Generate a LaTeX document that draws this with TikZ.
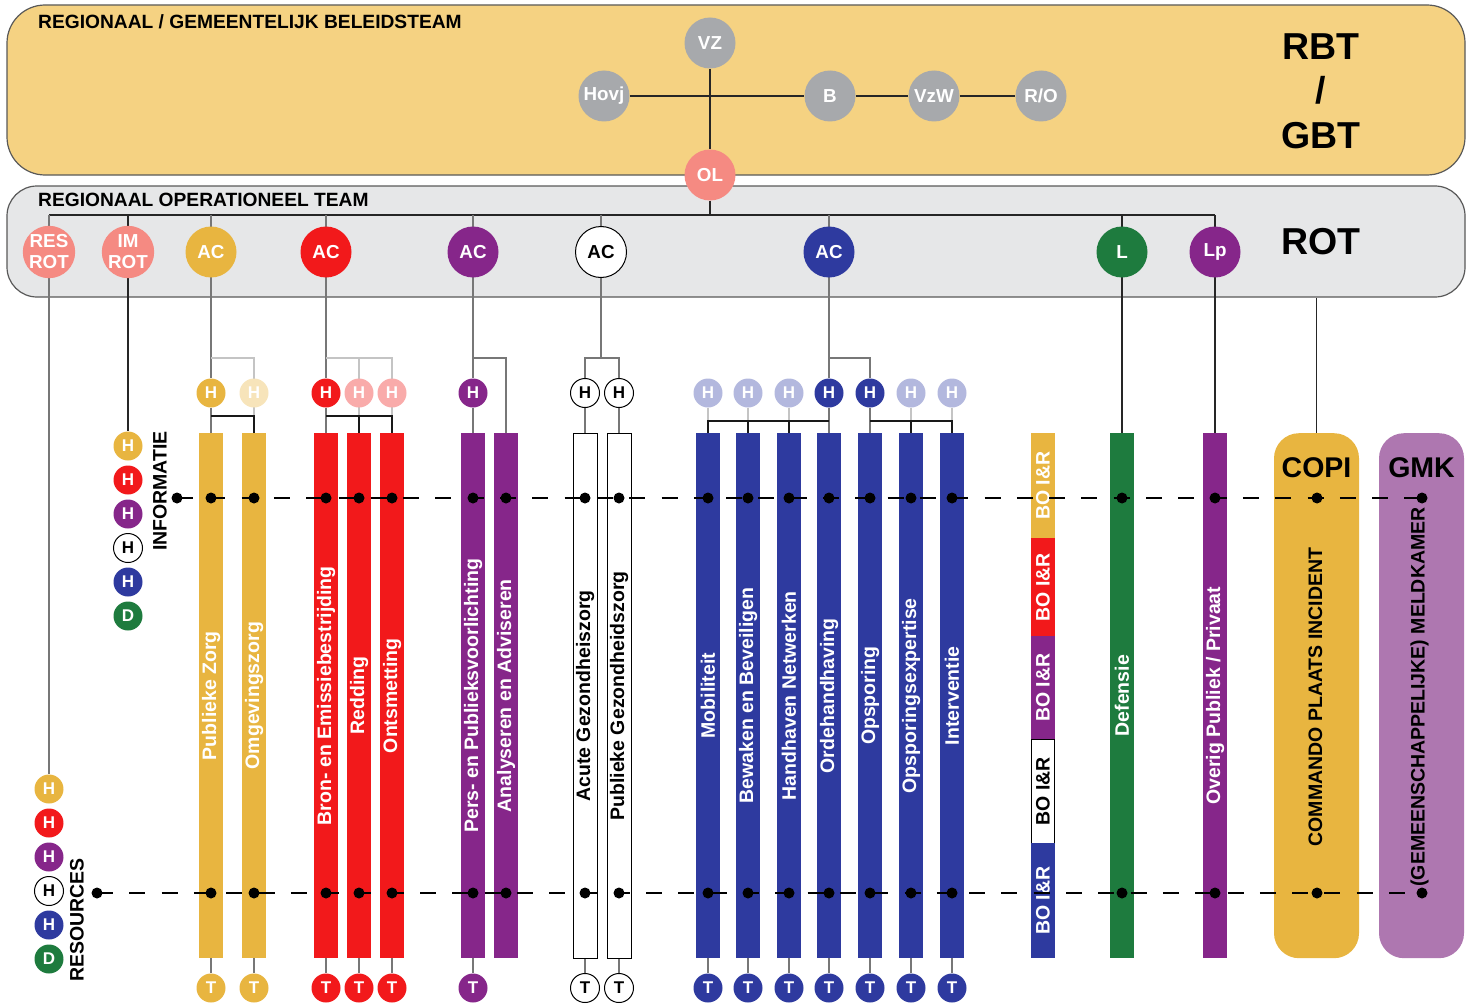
\documentclass[tikz,border=0pt]{standalone}
\usepackage{fontspec}
\setmainfont{Liberation Sans}
\definecolor{rbtfill}{HTML}{F5D282}
\definecolor{rotfill}{HTML}{E6E7E8}
\definecolor{cgray}{HTML}{A7A9AC}
\definecolor{salmon}{HTML}{F58A82}
\definecolor{cyel}{HTML}{E8B540}
\definecolor{cyelL}{HTML}{F7E4BA}
\definecolor{cred}{HTML}{F2191B}
\definecolor{credL}{HTML}{F9ABAA}
\definecolor{cpur}{HTML}{86268A}
\definecolor{cblue}{HTML}{2E3A9F}
\definecolor{cblueL}{HTML}{B3B8DE}
\definecolor{cgreen}{HTML}{1E7B3E}
\definecolor{cgmk}{HTML}{AE77B0}
\definecolor{lgray}{HTML}{C4C4C4}
\definecolor{mgray}{HTML}{777777}
\pgfdeclarelayer{back}
\pgfdeclarelayer{bg}
\pgfsetlayers{back,bg,main}
\tikzset{
  boxst/.style={draw=black!65, line width=1.2pt, inner sep=0pt},
  bigc/.style={circle, inner sep=0pt, minimum size=51pt, font=\bfseries\fontsize{18.8}{21}\selectfont, text=white, align=center},
  smc/.style={circle, inner sep=0pt, minimum size=29pt, font=\bfseries\fontsize{17}{17}\selectfont, text=white},
  wsmc/.style={smc, fill=white, draw=black, line width=1pt, text=black},
  barbox/.style={rectangle, inner sep=0pt, minimum width=24pt, minimum height=525pt, anchor=north},
  lbl/.style={rotate=90, inner sep=0pt, font=\bfseries\fontsize{19.5}{19.5}\selectfont, text=white},
  dotn/.style={circle, fill=black, inner sep=0pt, minimum size=11pt},
  thinb/.style={draw=black!85, line width=1.3pt},
  conn/.style={draw=mgray, line width=1.4pt},
  connl/.style={draw=lgray, line width=1.4pt},
  connd/.style={draw=black!90, line width=1.4pt},
  dline/.style={line width=2.3pt, dash pattern=on 16pt off 16.3pt},
  titletxt/.style={font=\bfseries\fontsize{19.2}{19.5}\selectfont, anchor=west, inner sep=0pt},
  bigtxt/.style={font=\bfseries\fontsize{37.5}{44.7}\selectfont, align=center, inner sep=0pt},
}
\newcommand{\mybar}[5][]{\node[barbox,#1] (b#2) at (#3,433) {}; \node[lbl,#4] (l#2) at (b#2) {#5};}
\begin{document}
\begin{tikzpicture}[x=1pt,y=-1pt]
\useasboundingbox (0,0) rectangle (1472,1006);
% boxes
\begin{pgfonlayer}{back}
\node[boxst, fill=rbtfill, rounded corners=38pt, minimum width=1458pt, minimum height=170pt] (rbt) at (736,90) {};
\node[boxst, fill=rotfill, rounded corners=30pt, minimum width=1458pt, minimum height=111pt] (rot) at (736,241.5) {};
\end{pgfonlayer}
\node[titletxt] (tRBT) at (38,22) {REGIONAAL / GEMEENTELIJK BELEIDSTEAM};
\node[titletxt] (tROT) at (38,199.5) {REGIONAAL OPERATIONEEL TEAM};
\node[bigtxt] (rbtlabel) at (1321,91) {RBT\\/\\GBT};
\node[bigtxt] (rotlabel) at (1321,242) {ROT};
% top circles
\node[bigc, fill=cgray] (vz) at (710,43) {VZ};
\node[bigc, fill=cgray] (hovj) at (604,96) {Hovj};
\node[bigc, fill=cgray] (b) at (830,96) {B};
\node[bigc, fill=cgray] (vzw) at (934,96) {VzW};
\node[bigc, fill=cgray] (ro) at (1041,96) {R/O};
\node[bigc, fill=salmon] (ol) at (710,175) {OL};
% ROT circles
\node[bigc, fill=salmon] (res) at (49,252) {RES\\ROT};
\node[bigc, fill=salmon] (imrot) at (128,252) {IM\\ROT};
\node[bigc, fill=cyel] (acY) at (211,252) {AC};
\node[bigc, fill=cred] (acR) at (326,252) {AC};
\node[bigc, fill=cpur] (acP) at (473,252) {AC};
\node[bigc, fill=white, draw=black, line width=1pt, text=black] (acW) at (601,252) {AC};
\node[bigc, fill=cblue] (acB) at (829,252) {AC};
\node[bigc, fill=cgreen] (cL) at (1122,252) {L};
\node[bigc, fill=cpur] (cLp) at (1215,252) {Lp};
\coordinate (rl0) at (49,215);
\coordinate (rl1) at (1215,215);
\coordinate (j1) at (0,358);
\coordinate (j2) at (0,416);
\coordinate (j3) at (0,421);
% legends
\node[smc, fill=cyel] (li1) at (128,446) {H};
\node[smc, fill=cred] (li2) at (128,480) {H};
\node[smc, fill=cpur] (li3) at (128,514) {H};
\node[wsmc] (li4) at (128,548) {H};
\node[smc, fill=cblue] (li5) at (128,582) {H};
\node[smc, fill=cgreen] (li6) at (128,616) {D};
\node[lbl, text=black] (linfo) at (160,491) {INFORMATIE};
\node[smc, fill=cyel] (lr1) at (49,789) {H};
\node[smc, fill=cred] (lr2) at (49,823) {H};
\node[smc, fill=cpur] (lr3) at (49,857) {H};
\node[wsmc] (lr4) at (49,891) {H};
\node[smc, fill=cblue] (lr5) at (49,925) {H};
\node[smc, fill=cgreen] (lr6) at (49,959) {D};
\node[lbl, text=black] (lres) at (77,920) {RESOURCES};
% H circles
\node[smc, fill=cyel] (hY1) at (211,393) {H};
\node[smc, fill=cyelL] (hY2) at (254,393) {H};
\node[smc, fill=cred] (hR1) at (326,393) {H};
\node[smc, fill=credL] (hR2) at (359,393) {H};
\node[smc, fill=credL] (hR3) at (392,393) {H};
\node[smc, fill=cpur] (hP1) at (473,393) {H};
\node[wsmc] (hW1) at (585,393) {H};
\node[wsmc] (hW2) at (619,393) {H};
\node[smc, fill=cblueL] (hB1) at (708,393) {H};
\node[smc, fill=cblueL] (hB2) at (748,393) {H};
\node[smc, fill=cblueL] (hB3) at (789,393) {H};
\node[smc, fill=cblue] (hB4) at (829,393) {H};
\node[smc, fill=cblue] (hB5) at (870,393) {H};
\node[smc, fill=cblueL] (hB6) at (911,393) {H};
\node[smc, fill=cblueL] (hB7) at (952,393) {H};
% bars
\mybar[fill=cyel]{Y1}{211}{}{Publieke Zorg}
\mybar[fill=cyel]{Y2}{254}{}{Omgevingszorg}
\mybar[fill=cred]{R1}{326}{}{Bron- en Emissiebestrijding}
\mybar[fill=cred]{R2}{359}{}{Redding}
\mybar[fill=cred]{R3}{392}{}{Ontsmetting}
\mybar[fill=cpur]{P1}{473}{}{Pers- en Publieksvoorlichting}
\mybar[fill=cpur]{P2}{506}{}{Analyseren en Adviseren}
\mybar[fill=white,draw=black,line width=1pt]{W1}{585}{text=black}{Acute Gezondheiszorg}
\mybar[fill=white,draw=black,line width=1pt]{W2}{619}{text=black}{Publieke Gezondheidszorg}
\mybar[fill=cblue]{B1}{708}{}{Mobiliteit}
\mybar[fill=cblue]{B2}{748}{}{Bewaken en Beveiligen}
\mybar[fill=cblue]{B3}{789}{}{Handhaven Netwerken}
\mybar[fill=cblue]{B4}{829}{}{Ordehandhaving}
\mybar[fill=cblue]{B5}{870}{}{Opsporing}
\mybar[fill=cblue]{B6}{911}{}{Opsporingsexpertise}
\mybar[fill=cblue]{B7}{952}{}{Interventie}
\mybar[fill=cgreen]{G}{1122}{}{Defensie}
\mybar[fill=cpur]{Lp}{1215}{}{Overig Publiek / Privaat}
% BO I&R column
\node[barbox, minimum height=105pt, fill=cyel] (bo1) at (1043,433) {};
\node[barbox, minimum height=98pt, fill=cred] (bo2) at (1043,538) {};
\node[barbox, minimum height=103pt, fill=cpur] (bo3) at (1043,636) {};
\node[barbox, minimum height=104pt, minimum width=23pt, fill=white, draw=black, line width=1pt] (bo4) at (1043,739) {};
\node[barbox, minimum height=115pt, fill=cblue] (bo5) at (1043,843) {};
\node[lbl] (lbo1) at (bo1) {BO I\&R};
\node[lbl] (lbo2) at (bo2) {BO I\&R};
\node[lbl] (lbo3) at (bo3) {BO I\&R};
\node[lbl, text=black] (lbo4) at (bo4) {BO I\&R};
\node[lbl] (lbo5) at (bo5) {BO I\&R};
% COPI and GMK
\node[rectangle, rounded corners=25pt, fill=cyel, minimum width=85pt, minimum height=525pt, anchor=north, inner sep=0pt] (copi) at (1316.5,433) {};
\node[font=\bfseries\fontsize{28.5}{28.5}\selectfont, inner sep=0pt] (copit) at (1316.5,468) {COPI};
\node[lbl, text=black] (copil) at (1315.5,697) {COMMANDO PLAATS INCIDENT};
\node[rectangle, rounded corners=25pt, fill=cgmk, minimum width=85pt, minimum height=525pt, anchor=north, inner sep=0pt] (gmk) at (1421.5,433) {};
\node[font=\bfseries\fontsize{28.5}{28.5}\selectfont, inner sep=0pt] (gmkt) at (1421.5,468) {GMK};
\node[lbl, text=black] (gmkl) at (1419.5,697) {(GEMEENSCHAPPELIJKE) MELDKAMER};
% T circles
\node[smc, fill=cyel] (tY1) at (211,988) {T};
\node[smc, fill=cyel] (tY2) at (254,988) {T};
\node[smc, fill=cred] (tR1) at (326,988) {T};
\node[smc, fill=cred] (tR2) at (359,988) {T};
\node[smc, fill=cred] (tR3) at (392,988) {T};
\node[smc, fill=cpur] (tP1) at (473,988) {T};
\node[wsmc] (tW1) at (585,988) {T};
\node[wsmc] (tW2) at (619,988) {T};
\node[smc, fill=cblue] (tB1) at (708,988) {T};
\node[smc, fill=cblue] (tB2) at (748,988) {T};
\node[smc, fill=cblue] (tB3) at (789,988) {T};
\node[smc, fill=cblue] (tB4) at (829,988) {T};
\node[smc, fill=cblue] (tB5) at (870,988) {T};
\node[smc, fill=cblue] (tB6) at (911,988) {T};
\node[smc, fill=cblue] (tB7) at (952,988) {T};
% connectors
\begin{pgfonlayer}{bg}
\draw[thinb] (hovj) -- (b);
\draw[thinb] (b) -- (vzw);
\draw[thinb] (vzw) -- (ro);
\draw[thinb] (vz) -- (ol);
\draw[thinb] (ol) -- (ol |- rl0);
\draw[thinb] (rl0) -- (rl1);
\draw[conn] (res |- rl0) -- (lr1);
\draw[thinb] (imrot |- rl0) -- (li1);
\draw[conn] (acY |- rl0) -- (hY1);
\draw[conn] (acR |- rl0) -- (hR1);
\draw[conn] (acP |- rl0) -- (hP1);
\draw[conn] (acW |- rl0) -- (acW |- j1);
\draw[conn] (acB |- rl0) -- (hB4);
\draw[thinb] (cL |- rl0) -- (bG);
\draw[thinb] (cLp |- rl0) -- (bLp);
\draw[thinb] (copi) -- (copi |- rot.south);
% yellow
\draw[connl] (hY2 |- j2) -- (hY2 |- j1) -- (hY1 |- j1);
\draw[conn] (hY1) -- (bY1);
\draw[connd] (bY2) |- (bY1 |- j2);
% red
\draw[connl] (hR3 |- j2) -- (hR3 |- j1) -- (hR1 |- j1);
\draw[connl] (hR2 |- j2) -- (hR2 |- j1);
\draw[conn] (hR1) -- (bR1);
\draw[connd] (bR3) |- (bR1 |- j2);
\draw[connd] (bR2) -- (bR2 |- j2);
% purple
\draw[conn] (hP1) -- (bP1);
\draw[conn] (bP2) |- (hP1 |- j1);
% white
\draw[conn] (hW1) |- (acW |- j1) -| (hW2);
\draw[conn] (hW1) -- (bW1);
\draw[conn] (hW2) -- (bW2);
% blue
\draw[conn] (hB5) |- (hB4 |- j1);
\draw[conn] (hB4) -- (bB4);
\draw[conn] (hB5) -- (bB5);
\foreach \n in {B1,B2,B3,B6,B7} {\draw[connl] (h\n) -- (h\n |- j3);}
\draw[connd] (bB1) |- (bB4 |- j3);
\draw[connd] (bB2) -- (bB2 |- j3);
\draw[connd] (bB3) -- (bB3 |- j3);
\draw[connd] (bB7) |- (bB5 |- j3);
\draw[connd] (bB6) -- (bB6 |- j3);
% T
\foreach \n in {Y1,Y2,R1,R2,R3,P1,W1,W2,B1,B2,B3,B4,B5,B6,B7} {\draw[conn] (b\n) -- (t\n);}
\end{pgfonlayer}
% dashed lines
\coordinate (iS) at (177,498);
\coordinate (iE) at (1422,498);
\coordinate (rS) at (97,893);
\coordinate (rE) at (1422,893);
\draw[dline] (iS) -- (iE);
\draw[dline] (rS) -- (rE);
\node[dotn] (diS) at (iS) {};
\node[dotn] (drS) at (rS) {};
\foreach \x [count=\i] in {211,254,326,359,392,473,506,585,619,708,748,789,829,870,911,952,1122,1215,1317,1422} {
  \node[dotn] (di\i) at (\x,498) {};
  \node[dotn] (dr\i) at (\x,893) {};
}
\end{tikzpicture}
\end{document}
